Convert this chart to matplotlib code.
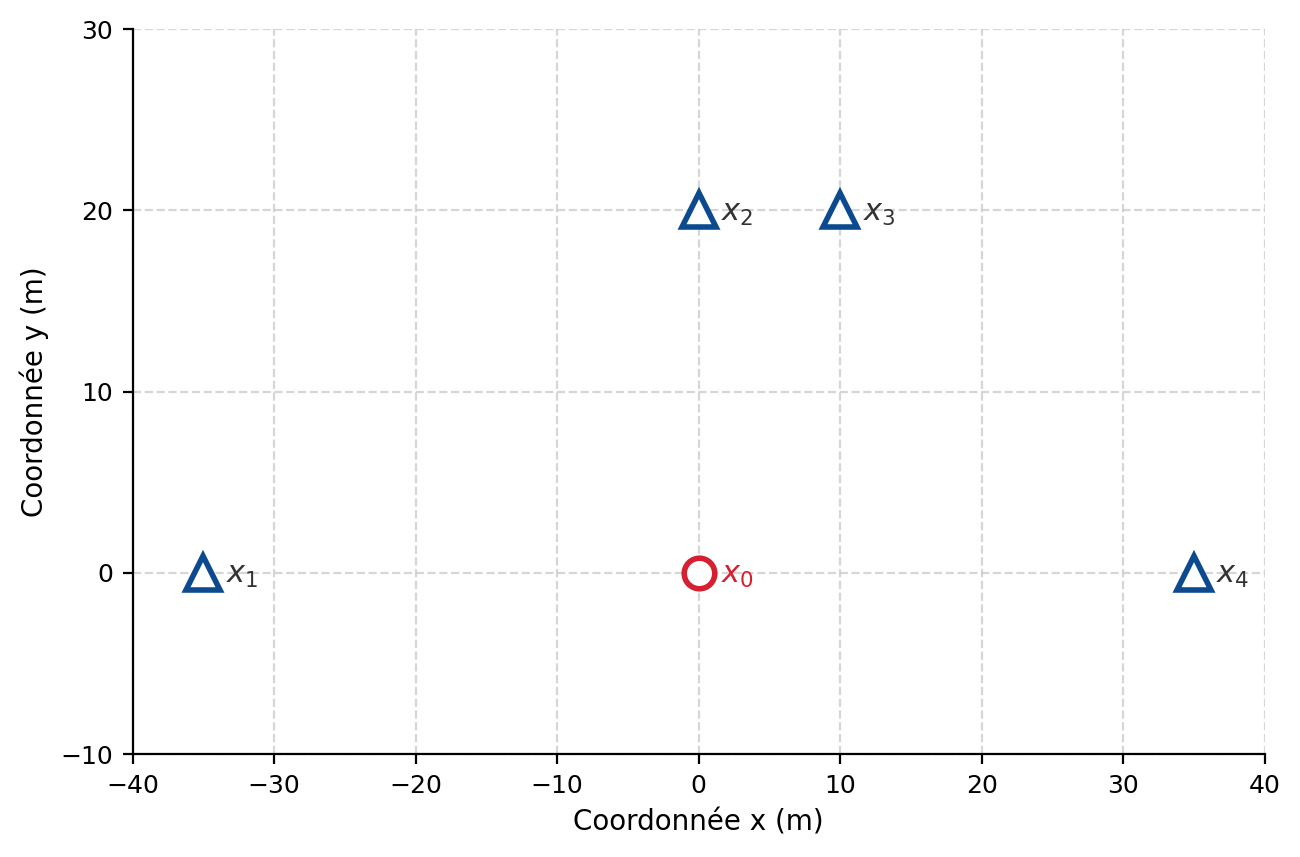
import matplotlib.pyplot as plt

# capteurs
sensor_x = [-35, 0, 10, 35]
sensor_y = [0, 20, 20, 0]
sensor_labels = ['$x_1$', '$x_2$', '$x_3$', '$x_4$']

# point cible
target_x = [0]
target_y = [0]
target_labels = ['$x_0$']

blue = '#0b4a8e'
red = '#d42030'


def main():
    fig, ax = plt.subplots(figsize=(6.5, 4.285), dpi=200)
    fig.subplots_adjust(left=0.102, right=0.973, top=0.966, bottom=0.12)

    ax.plot(sensor_x, sensor_y, linestyle='none', marker='^', markersize=12,
            markerfacecolor='white', markeredgecolor=blue, markeredgewidth=2, zorder=3)
    ax.plot(target_x, target_y, linestyle='none', marker='o', markersize=11,
            markerfacecolor='white', markeredgecolor=red, markeredgewidth=2, zorder=3)

    for x, y, lab in zip(sensor_x, sensor_y, sensor_labels):
        ax.annotate(lab, (x, y), xytext=(8, -1), textcoords='offset points',
                    ha='left', va='center', fontsize=11, color='#333333')
    for x, y, lab in zip(target_x, target_y, target_labels):
        ax.annotate(lab, (x, y), xytext=(8, -1), textcoords='offset points',
                    ha='left', va='center', fontsize=11, color=red)

    ax.set_xlim(-40, 40)
    ax.set_ylim(-10, 30)
    ax.set_xticks(range(-40, 41, 10))
    ax.set_yticks(range(-10, 31, 10))
    ax.set_xlabel('Coordonnée x (m)', fontsize=10)
    ax.set_ylabel('Coordonnée y (m)', fontsize=10)
    ax.tick_params(labelsize=9)
    ax.grid(True, linestyle='--', color='#cccccc', linewidth=0.8, alpha=0.8)
    ax.set_axisbelow(True)
    ax.spines['top'].set_visible(False)
    ax.spines['right'].set_visible(False)

    fig.savefig('out.png')


if __name__ == "__main__":
    main()
